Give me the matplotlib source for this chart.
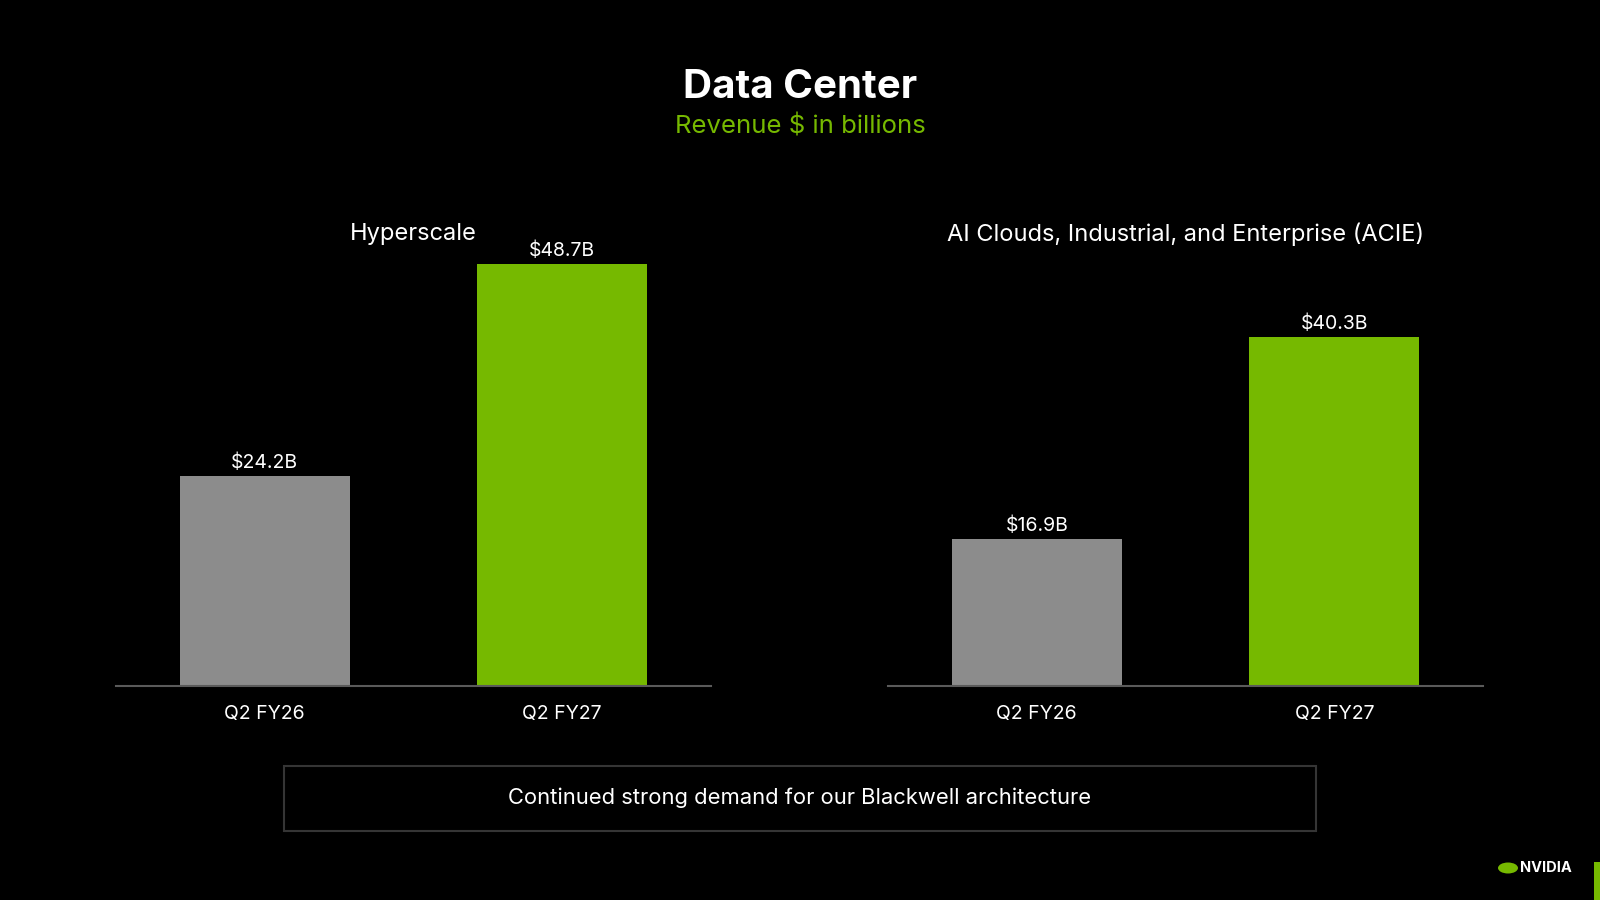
import matplotlib
matplotlib.use("Agg")
import matplotlib.pyplot as plt
from matplotlib.patches import Rectangle, Ellipse

plt.rcParams['font.family'] = ['Inter', 'DejaVu Sans']

# ---- data ----
periods = ["Q2 FY26", "Q2 FY27"]
hyperscale = [24.2, 48.7]
acie = [16.9, 40.3]
panel_titles = ["Hyperscale", "AI Clouds, Industrial, and Enterprise (ACIE)"]
title = "Data Center"
subtitle = "Revenue $ in billions"
note = "Continued strong demand for our Blackwell architecture"

GREEN = "#76b900"
GRAY = "#8c8c8c"
BG = "#000000"

W, H = 1600, 900
fig = plt.figure(figsize=(16, 9), dpi=100, facecolor=BG)

def fx(px):
    return px / W

def fy(py):
    return (H - py) / H

fig.text(fx(800), fy(88), title, color="white", fontsize=29, fontweight="bold",
         ha="center", va="center")
fig.text(fx(800), fy(127), subtitle, color=GREEN, fontsize=18.5,
         ha="center", va="center")

base_y = 685.7
top_y = 253.0
ymax = 50
panels = [(116, 711, hyperscale), (888, 1483, acie)]
for (x0, x1, vals), ptitle in zip(panels, panel_titles):
    ax = fig.add_axes([fx(x0), fy(base_y), fx(x1 - x0), (base_y - top_y) / H])
    ax.set_facecolor(BG)
    ax.set_xlim(-0.5, 1.5)
    ax.set_ylim(0, ymax)
    bars = ax.bar(range(len(periods)), vals, width=0.573, color=[GRAY, GREEN],
                  zorder=2)
    for b, v in zip(bars, vals):
        ax.annotate(f"${v:.1f}B", (b.get_x() + b.get_width() / 2, v),
                    xytext=(0, 3), textcoords="offset points",
                    ha="center", va="bottom", color="white", fontsize=14)
    for s in ["top", "right", "left"]:
        ax.spines[s].set_visible(False)
    ax.spines["bottom"].set_color("#5a5a5a")
    ax.spines["bottom"].set_linewidth(1.5)
    ax.spines["bottom"].set_zorder(3)
    ax.set_yticks([])
    ax.set_xticks(range(len(periods)))
    ax.set_xticklabels(periods, color="white", fontsize=14)
    ax.tick_params(axis="x", length=0, pad=14)
    fig.text(fx((x0 + x1) / 2), fy(234), ptitle, color="white", fontsize=17,
             ha="center", va="center")

# note box
fig.patches.append(Rectangle((fx(284), fy(830.5)), fx(1316 - 284), (830.5 - 765.5) / H,
                             transform=fig.transFigure, facecolor=BG,
                             edgecolor="#353535", linewidth=1.5))
fig.text(fx(800), fy(798), note, color="white", fontsize=15.8, ha="center", va="center")

# logo
fig.patches.append(Ellipse((fx(1508), fy(868)), fx(20), 11 / H,
                           transform=fig.transFigure, facecolor=GREEN, edgecolor="none"))
fig.text(fx(1520), fy(868), "NVIDIA", color="white", fontsize=10.5, fontweight="bold",
         ha="left", va="center")
fig.patches.append(Rectangle((fx(1594), 0), fx(6), 38 / H, transform=fig.transFigure,
                             facecolor=GREEN, edgecolor="none"))

fig.savefig("out.png", dpi=100, facecolor=BG)
